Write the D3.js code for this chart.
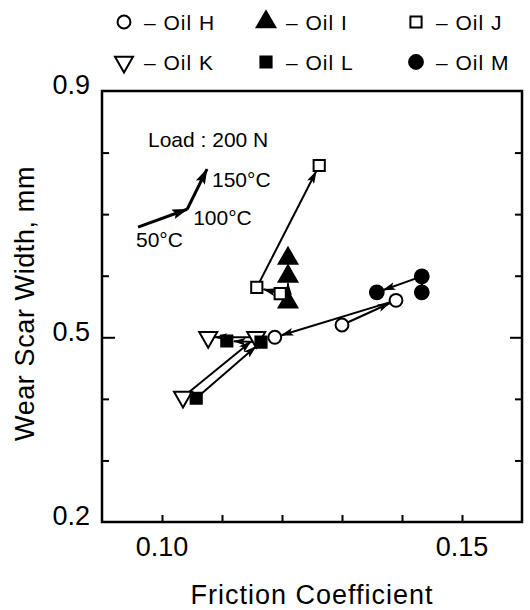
<!DOCTYPE html>
<html>
<head>
<meta charset="utf-8">
<script src="https://cdn.jsdelivr.net/npm/d3@7"></script>
<style>
  body { margin: 0; background: #fff; }
  svg text { font-family: "Liberation Sans", Arial, sans-serif; fill: #000; }
</style>
</head>
<body>
<svg class="chart" width="530" height="610"></svg>
<script>
// data: [friction coefficient, wear scar width] at 50, 100, 150 °C
const oilNames = ['H', 'I', 'J', 'K', 'L', 'M'];
const oilH = [[0.1300, 0.520], [0.1390, 0.560], [0.1188, 0.500]];
const oilI = [[0.1210, 0.557], [0.1210, 0.599], [0.1210, 0.628]];
const oilJ = [[0.1197, 0.571], [0.1158, 0.581], [0.1262, 0.779]];
const oilK = [[0.1035, 0.403], [0.1157, 0.500], [0.1077, 0.500]];
const oilL = [[0.1057, 0.401], [0.1165, 0.492], [0.1108, 0.494]];
const oilM = [[0.1433, 0.573], [0.1433, 0.599], [0.1358, 0.573]];
const temps = ['50°C', '100°C', '150°C'];
// key arrow that explains the temperature order
const keyArrow = [[0.0960, 0.679], [0.1042, 0.708], [0.1075, 0.773]];

const xTicks = [0.10, 0.11, 0.12, 0.13, 0.14, 0.15];
const xLabels = [0.10, 0.15];
const yTicks = [0.3, 0.4, 0.5, 0.6, 0.7, 0.8];
const yLabels = [0.2, 0.5, 0.9];

const svg = d3.select('.chart');

const x = d3.scaleLinear().domain([0.09, 0.16]).range([102, 522]);
const y = d3.scaleLinear().domain([0.2, 0.9]).range([522, 91]);

const seriesData = { H: oilH, I: oilI, J: oilJ, K: oilK, L: oilL, M: oilM };
const style = {
    H: { type: d3.symbolCircle, size: 130, filled: false, rot: 0 },
    I: { type: d3.symbolTriangle, size: 150, filled: true, rot: 0 },
    J: { type: d3.symbolSquare, size: 125, filled: false, rot: 0 },
    K: { type: d3.symbolTriangle, size: 140, filled: false, rot: 180 },
    L: { type: d3.symbolSquare, size: 125, filled: true, rot: 0 },
    M: { type: d3.symbolCircle, size: 150, filled: true, rot: 0 }
};

const defs = svg.append('defs');
defs.append('marker')
    .attr('id', 'arr')
    .attr('viewBox', '0 0 13 8')
    .attr('refX', 12).attr('refY', 4)
    .attr('markerWidth', 13).attr('markerHeight', 8)
    .attr('markerUnits', 'userSpaceOnUse')
    .attr('orient', 'auto')
  .append('path')
    .attr('d', 'M0,0 L13,4 L0,8 L3,4 Z')
    .attr('fill', '#000');
defs.append('marker')
    .attr('id', 'arrBig')
    .attr('viewBox', '0 0 16 10')
    .attr('refX', 15).attr('refY', 5)
    .attr('markerWidth', 16).attr('markerHeight', 10)
    .attr('markerUnits', 'userSpaceOnUse')
    .attr('orient', 'auto')
  .append('path')
    .attr('d', 'M0,0 L16,5 L0,10 L3,5 Z')
    .attr('fill', '#000');

// frame
svg.append('rect')
    .attr('x', x(0.09)).attr('y', y(0.9))
    .attr('width', x(0.16) - x(0.09))
    .attr('height', y(0.2) - y(0.9))
    .attr('fill', 'none')
    .attr('stroke', '#000')
    .attr('stroke-width', 2.5);

// axes, ticks pointing inward
const bottom = svg.append('g')
    .attr('transform', 'translate(0,' + y(0.2) + ')')
    .call(d3.axisBottom(x).tickValues(xTicks).tickSize(-7).tickFormat(''));
const left = svg.append('g')
    .attr('transform', 'translate(' + x(0.09) + ',0)')
    .call(d3.axisLeft(y).tickValues(yTicks).tickSize(-7).tickFormat(''));
const right = svg.append('g')
    .attr('transform', 'translate(' + x(0.16) + ',0)')
    .call(d3.axisRight(y).tickValues(yTicks).tickSize(-7).tickFormat(''));
[bottom, left, right].forEach(g => {
    g.select('.domain').remove();
    g.selectAll('line').attr('stroke', '#000').attr('stroke-width', 2);
});
left.selectAll('.tick line').filter(d => d === 0.5).attr('x2', 13);
right.selectAll('.tick line').filter(d => d === 0.5).attr('x2', -12);

svg.selectAll('.xlab')
    .data(xLabels)
    .enter().append('text')
    .attr('class', 'xlab')
    .attr('x', d => x(d))
    .attr('y', y(0.2) + 34)
    .attr('text-anchor', 'middle')
    .attr('font-size', 27)
    .text(d => d.toFixed(2));

svg.selectAll('.ylab')
    .data(yLabels)
    .enter().append('text')
    .attr('class', 'ylab')
    .attr('x', x(0.09) - 12)
    .attr('y', d => y(d))
    .attr('dy', '0.12em')
    .attr('text-anchor', 'end')
    .attr('font-size', 27)
    .text(d => d.toFixed(1));

svg.append('text')
    .attr('x', (x(0.09) + x(0.16)) / 2)
    .attr('y', 604)
    .attr('text-anchor', 'middle')
    .attr('font-size', 27)
    .attr('letter-spacing', 1)
    .text('Friction Coefficient');

svg.append('text')
    .attr('transform', 'translate(34,' + (y(0.55) - 3) + ') rotate(-90)')
    .attr('text-anchor', 'middle')
    .attr('font-size', 27)
    .attr('letter-spacing', 0.6)
    .text('Wear Scar Width, mm');

// segments 50 -> 100 -> 150 °C with arrow heads stopping short of the marker
function shorten(p0, p1, cut) {
    const dx = p1[0] - p0[0], dy = p1[1] - p0[1];
    const len = Math.sqrt(dx * dx + dy * dy) || 1;
    return [p1[0] - dx / len * cut, p1[1] - dy / len * cut];
}

oilNames.forEach(name => {
    const pts = seriesData[name].map(d => [x(d[0]), y(d[1])]);
    for (let i = 0; i < pts.length - 1; i++) {
        const end = shorten(pts[i], pts[i + 1], 7);
        svg.append('line')
            .attr('x1', pts[i][0]).attr('y1', pts[i][1])
            .attr('x2', end[0]).attr('y2', end[1])
            .attr('stroke', '#000')
            .attr('stroke-width', 2)
            .attr('marker-end', 'url(#arr)');
    }
});

oilNames.forEach(name => {
    const s = style[name];
    svg.selectAll('.pt' + name)
        .data(seriesData[name])
        .enter().append('path')
        .attr('class', 'pt' + name)
        .attr('d', d3.symbol().type(s.type).size(s.size))
        .attr('transform', d => 'translate(' + x(d[0]) + ',' + y(d[1]) + ') rotate(' + s.rot + ')')
        .attr('fill', s.filled ? '#000' : '#fff')
        .attr('stroke', '#000')
        .attr('stroke-width', 2);
});

// legend
const legX = [124, 266, 416];
const legY = [22, 62];
oilNames.forEach((name, i) => {
    const s = style[name];
    const lx = legX[i % 3], ly = legY[Math.floor(i / 3)];
    svg.append('path')
        .attr('d', d3.symbol().type(s.type).size(s.size))
        .attr('transform', 'translate(' + lx + ',' + ly + ') rotate(' + s.rot + ')')
        .attr('fill', s.filled ? '#000' : '#fff')
        .attr('stroke', '#000')
        .attr('stroke-width', 2);
    svg.append('text')
        .attr('x', lx + 20)
        .attr('y', ly + 8)
        .attr('font-size', 21)
        .attr('letter-spacing', 1)
        .text('– Oil ' + name);
});

// temperature key
svg.append('text')
    .attr('x', 148).attr('y', 147)
    .attr('font-size', 21)
    .text('Load : 200 N');

const kp = keyArrow.map(d => [x(d[0]), y(d[1])]);
for (let i = 0; i < kp.length - 1; i++) {
    svg.append('line')
        .attr('x1', kp[i][0]).attr('y1', kp[i][1])
        .attr('x2', kp[i + 1][0]).attr('y2', kp[i + 1][1])
        .attr('stroke', '#000')
        .attr('stroke-width', 3)
        .attr('marker-end', 'url(#arrBig)');
}
const tempOffsets = [[-2, 20], [6, 16], [5, 18]];
temps.forEach((t, i) => {
    svg.append('text')
        .attr('x', kp[i][0] + tempOffsets[i][0])
        .attr('y', kp[i][1] + tempOffsets[i][1])
        .attr('font-size', 21)
        .text(t);
});
</script>
</body>
</html>
